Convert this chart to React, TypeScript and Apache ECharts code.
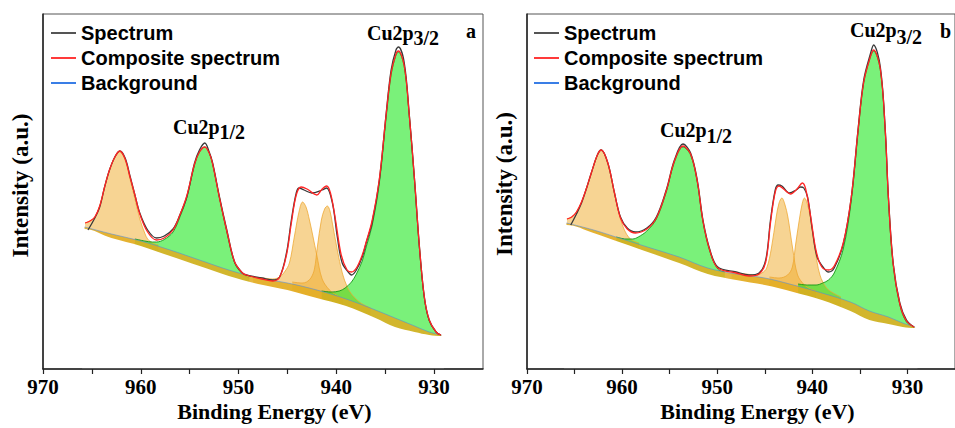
import React, { useEffect, useRef } from "react";
import * as echarts from "echarts";

// ---- data (binding energy eV, intensity a.u.) ----
const xTickLabels = [930, 940, 950, 960, 970];
const xTicks = [930, 935, 940, 945, 950, 955, 960, 965, 970];
const legendNames = ["Spectrum", "Composite spectrum", "Background"];

// Panel a
const spectrumA = [[965.4,139],[964.7,151],[964.2,162],[963.7,182],[963.2,199],[962.65,212],[962.15,218],[961.6,211],[961.1,193],[960.6,174],[960.1,156],[959.3,139],[958.4,131],[957.6,133],[956.7,140],[956.0,154],[955.3,172],[954.5,206],[954.0,219],[953.45,226],[953.0,217],[952.65,206],[951.95,172],[951.2,139],[950.4,107],[949.6,96],[949.2,94],[947.6,91],[946.5,89],[945.8,92],[945.1,116],[944.6,149],[944.1,176],[943.8,181],[943.3,179],[942.5,176],[941.45,179],[941.0,181],[940.4,166],[939.9,132],[939.4,106],[938.7,96],[938.45,94],[937.95,99],[937.35,112],[936.95,126],[936.35,146],[935.6,189],[934.9,256],[934.4,299],[933.9,319],[933.65,322],[933.05,306],[932.55,256],[932.0,189],[931.5,122],[931.0,72],[930.5,49],[929.8,37],[929.3,34]];
const compositeA = [[965.7,146],[965.2,148],[964.7,152],[964.2,163],[963.7,182],[963.2,199],[962.65,212],[962.15,218],[961.6,210],[961.1,192],[960.6,174],[960.1,155],[959.3,137],[958.4,129],[957.6,131],[956.7,139],[956.0,154],[955.3,173],[954.5,205],[954.0,217],[953.45,222],[953.0,216],[952.65,205],[951.95,171],[951.2,138],[950.4,107],[949.6,96],[949.2,94],[947.6,90],[946.5,88],[945.8,92],[945.1,114],[944.6,146],[944.1,174],[943.6,182],[943.0,180],[942.0,174],[941.45,180],[941.0,183],[940.6,176],[940.1,150],[939.5,114],[938.9,99],[938.45,97],[937.95,101],[937.35,114],[936.95,127],[936.35,148],[935.6,190],[934.9,255],[934.4,296],[933.9,315],[933.65,318],[933.05,303],[932.55,255],[932.0,189],[931.5,122],[931.0,72],[930.5,49],[929.8,37],[929.3,34]];
const backgroundA = [[965.75,142],[963,135],[960,128],[957,119],[954,109],[951,99],[948,91],[945,86],[942,79],[939,70],[936,59],[934,51],[932,43],[930.5,37],[929.25,34]];
const bandLowA = [[966.0,140],[965.75,140],[963,131],[960,123],[957,113],[954,103],[951,93],[948,85],[945,79],[942,71],[939,63],[936,51],[934,42],[932,37],[930.5,34],[929.25,33],[929.0,33]];
const sat962A = [[965.7,146],[965.2,148],[964.7,152],[964.2,163],[963.7,182],[963.2,199],[962.65,212],[962.15,217],[961.6,209],[961.1,190],[960.6,170],[960.1,150],[959.6,136],[959.3,130],[958.8,126],[958.2,124]];
const cu2p12A = [[960.6,130],[959.6,128],[958.8,127],[958.4,127],[957.6,129.5],[956.7,137],[956.0,152],[955.3,171],[954.5,204],[954.0,217],[953.45,222],[953.0,216],[952.65,205],[951.95,171],[951.2,137],[950.4,106],[949.6,95],[948.9,91]];
const sat943A = [[948.5,92],[947.5,91],[946.5,90],[945.8,92],[945.3,97],[944.8,106],[944.3,132],[943.8,158],[943.45,167],[943.1,162],[942.75,149],[942.4,133],[942.0,114],[941.45,90],[940.7,79],[940.0,74],[939.3,70]];
const sat941A = [[944.5,87],[943.5,86],[943.05,87],[942.6,91],[942.24,100],[941.94,122],[941.53,149],[941.2,160],[940.92,163],[940.65,158],[940.41,146],[939.9,119],[939.39,96],[938.88,82],[938.37,74],[937.5,66],[936.5,61]];
const cu2p32A = [[941.5,78],[940.5,77],[939.7,78],[939.1,81],[938.45,87],[937.95,95],[937.35,108],[936.95,122],[936.35,143],[935.6,186],[934.9,252],[934.4,294],[933.9,314],[933.65,317],[933.05,302],[932.55,254],[932.0,188],[931.5,121],[931.0,71],[930.5,48],[929.8,37],[929.3,34]];

// Panel b
const spectrumB = [[965.4,144],[964.8,155],[964.27,166],[963.7,182],[963.24,196],[962.6,214],[962.2,219],[961.5,206],[960.8,176],[960.17,152],[959.46,141],[958.6,137],[957.4,141],[956.4,152],[955.36,179],[954.5,209],[953.6,225],[952.8,216],[952.1,189],[951.5,149],[950.76,119],[949.94,102],[948.0,97],[946.66,94],[945.6,96],[944.9,109],[944.4,149],[943.9,179],[943.6,184],[943.2,183],[942.4,176],[941.7,179],[941.24,182],[940.9,181],[940.5,172],[940.0,139],[939.5,112],[938.8,101],[938.3,97],[937.7,101],[936.75,125],[935.9,172],[935.2,239],[934.6,289],[933.87,316],[933.56,324],[932.85,302],[932.33,239],[932.0,172],[931.5,106],[930.8,66],[930.1,49],[929.3,42]];
const compositeB = [[965.8,150],[965.3,152],[964.8,157],[964.27,167],[963.7,182],[963.24,196],[962.6,214],[962.2,219],[961.5,206],[960.8,176],[960.17,151],[959.46,140],[958.6,136],[957.4,140],[956.4,151],[955.36,178],[954.5,208],[953.6,223],[952.8,215],[952.1,188],[951.5,148],[950.76,118],[949.94,101],[948.0,96],[946.66,93],[945.6,95],[944.9,107],[944.4,146],[943.9,177],[943.5,183],[942.9,179],[942.3,175],[941.6,180],[941.05,186],[940.7,180],[940.2,154],[939.6,118],[939.0,102],[938.3,99],[937.7,103],[936.75,126],[935.9,172],[935.2,238],[934.6,287],[933.87,313],[933.56,319],[932.85,300],[932.33,238],[932.0,171],[931.5,105],[930.8,65],[930.1,48],[929.3,42]];
const backgroundB = [[965.85,146],[963,139],[960,130],[957,121],[954,112],[951,101],[948,95],[945,91],[942,84],[939,76],[936,67],[934,58],[932,52],[930.5,46],[929.2,42]];
const bandLowB = [[966.1,144],[965.85,144],[963,136],[960,126],[957,116],[954,106],[951,95],[948,89],[945,84],[942,77],[939,69],[936,58],[934,49],[932,45],[930.5,42],[929.2,41],[928.95,41]];
const sat962B = [[965.8,150],[965.3,152],[964.8,157],[964.27,167],[963.7,182],[963.24,196],[962.6,214],[962.2,219],[961.5,205],[960.8,175],[960.17,150],[959.76,139],[959.25,131],[958.8,128],[958.2,126]];
const cu2p12B = [[960.6,132],[959.6,130],[958.9,130],[958.3,132],[957.4,138],[956.4,150],[955.36,177],[954.5,207],[953.6,222],[952.8,214],[952.1,187],[951.5,147],[950.76,117],[949.94,100],[949.2,97]];
const sat943B = [[948.5,96],[947.0,95],[946.0,94],[945.3,96],[944.8,101],[944.3,121],[943.8,152],[943.5,166],[943.2,171],[942.9,165],[942.57,152],[942.06,120],[941.55,94],[940.83,84],[940.2,80],[939.6,78]];
const sat941B = [[944.5,92],[943.5,91],[942.6,94],[942.1,102],[941.75,125],[941.34,151],[941.05,166],[940.83,171],[940.55,166],[940.2,151],[939.7,119],[939.2,94],[938.5,81],[937.8,76],[937.0,72]];
const cu2p32B = [[941.5,85],[940.5,84],[939.6,84],[938.9,86],[938.3,89],[937.7,96],[936.75,120],[935.9,169],[935.2,236],[934.6,286],[933.87,313],[933.56,318],[932.85,299],[932.33,237],[932.0,170],[931.5,104],[930.8,64],[930.1,47],[929.3,42]];

const SERIF = '"Liberation Serif", "Times New Roman", serif';
const SANS = '"Liberation Sans", Arial, sans-serif';
const ORANGE_FILL = "rgba(240,170,40,0.5)";
const ORANGE_LINE = "rgba(238,165,45,0.75)";
const GREEN_FILL = "rgba(0,228,0,0.52)";
const GREEN_LINE = "rgba(20,150,20,0.9)";
const SMOOTH = 0.35;

function panelSeries(i: number, d: any) {
  const base = { type: "line", xAxisIndex: i, yAxisIndex: i, symbol: "none", showSymbol: false, smooth: SMOOTH, silent: true };
  const fill = (data: number[][], fillC: string, lineC: string) => ({
    ...base, data, z: 2,
    lineStyle: { color: lineC, width: 1 },
    areaStyle: { color: fillC, opacity: 1 },
  });
  return [
    fill(d.s962, ORANGE_FILL, ORANGE_LINE),
    fill(d.p12, GREEN_FILL, GREEN_LINE),
    fill(d.s943, ORANGE_FILL, ORANGE_LINE),
    fill(d.s941, ORANGE_FILL, ORANGE_LINE),
    fill(d.p32, GREEN_FILL, GREEN_LINE),
    // gold band under the background line, then white below it
    { ...base, data: d.bg, z: 3, lineStyle: { width: 0, opacity: 0 }, areaStyle: { color: "rgba(226,172,32,0.85)", opacity: 1 } },
    { ...base, data: d.low, z: 3, lineStyle: { width: 0, opacity: 0 }, areaStyle: { color: "#ffffff", opacity: 1 } },
    { ...base, name: "Background", data: d.bg, z: 4, itemStyle: { color: "#3a7ee6" }, lineStyle: { color: "#4a8ae6", width: 1, opacity: 0.55 } },
    { ...base, name: "Spectrum", data: d.spec, z: 5, itemStyle: { color: "#555" }, lineStyle: { color: "#3a3a3a", width: 1.3 } },
    { ...base, name: "Composite spectrum", data: d.comp, z: 6, itemStyle: { color: "#ff3a3a" }, lineStyle: { color: "#ff2424", width: 1.3 } },
  ];
}

function xAxis(i: number) {
  return {
    gridIndex: i, type: "value", min: 925, max: 970, interval: 5, inverse: true, z: 10,
    axisLine: { show: true, onZero: false, lineStyle: { color: "#222", width: 1.5 } },
    axisTick: { show: true, length: 5, customValues: xTicks, lineStyle: { color: "#222", width: 1.2 } },
    axisLabel: {
      show: true, margin: 7, customValues: xTickLabels,
      formatter: (v: number) => (v % 10 === 0 ? String(v) : ""),
      fontFamily: SERIF, fontWeight: "bold", fontSize: 21, color: "#000",
    },
    splitLine: { show: false },
  };
}
function yAxis(i: number) {
  return {
    gridIndex: i, type: "value", min: 0, max: 355, z: 10,
    axisLine: { show: true, onZero: false, lineStyle: { color: "#222", width: 1.5 } },
    axisTick: { show: false }, axisLabel: { show: false }, splitLine: { show: false },
  };
}
const hidden = { color: "rgba(0,0,0,0)", borderColor: "rgba(0,0,0,0)", borderWidth: 0, opacity: 0 };
function legend(left: number) {
  return {
    orient: "vertical", left, top: 18, itemWidth: 25, itemHeight: 14, itemGap: 5,
    selectedMode: false,
    textStyle: { fontFamily: SANS, fontWeight: "bold", fontSize: 20, color: "#000", lineHeight: 20 },
    data: [
      { name: legendNames[0], itemStyle: hidden, lineStyle: { color: "#555", width: 2, opacity: 1 } },
      { name: legendNames[1], itemStyle: hidden, lineStyle: { color: "#ff3a3a", width: 2, opacity: 1 } },
      { name: legendNames[2], itemStyle: hidden, lineStyle: { color: "#3a7ee6", width: 2, opacity: 1 } },
    ],
  };
}
const txt = (text: string, x: number, y: number, size: number, extra: any = {}) => ({
  type: "text", x, y, silent: true, z: 20, ...extra,
  style: { text, fill: "#000", fontFamily: SERIF, fontWeight: "bold", fontSize: size, align: "left", verticalAlign: "middle", ...(extra.style || {}) },
});

export default function App() {
  const ref = useRef<HTMLDivElement>(null);
  useEffect(() => {
    if (!ref.current) return;
    const chart = echarts.init(ref.current, undefined, { renderer: "svg" });
    const A = { spec: spectrumA, comp: compositeA, bg: backgroundA, low: bandLowA, s962: sat962A, p12: cu2p12A, s943: sat943A, s941: sat941A, p32: cu2p32A };
    const B = { spec: spectrumB, comp: compositeB, bg: backgroundB, low: bandLowB, s962: sat962B, p12: cu2p12B, s943: sat943B, s941: sat941B, p32: cu2p32B };
    const option: any = {
      animation: false,
      backgroundColor: "#ffffff",
      grid: [
        { left: 43, top: 14, width: 440, height: 355, show: true, borderColor: "#555", borderWidth: 1, backgroundColor: "transparent" },
        { left: 527, top: 14, width: 440, height: 355, show: true, borderColor: "#555", borderWidth: 1, backgroundColor: "transparent" },
      ],
      xAxis: [xAxis(0), xAxis(1)],
      yAxis: [yAxis(0), yAxis(1)],
      legend: [legend(45), legend(528)],
      graphic: [
        txt("Intensity (a.u.)", 20.5, 185.5, 23, { rotation: Math.PI / 2, style: { align: "center" } }),
        txt("Intensity (a.u.)", 504, 184, 23, { rotation: Math.PI / 2, style: { align: "center" } }),
        txt("Binding Energy (eV)", 274.5, 411, 22, { style: { align: "center" } }),
        txt("Binding Energy (eV)", 757.5, 411.5, 22, { style: { align: "center" } }),
        txt("a", 466, 31, 20),
        txt("b", 940, 31, 20),
        txt("Cu2p", 367, 33, 20),
        txt("3/2", 413.5, 38, 20),
        txt("Cu2p", 173, 126.5, 20),
        txt("1/2", 219.5, 131.5, 20),
        txt("Cu2p", 850, 30, 20),
        txt("3/2", 896.5, 36.5, 20),
        txt("Cu2p", 660, 130, 20),
        txt("1/2", 706.5, 136, 20),
      ],
      series: [...panelSeries(0, A), ...panelSeries(1, B)],
    };
    chart.setOption(option);
    return () => chart.dispose();
  }, []);
  return (
    <div
      ref={ref}
      style={{ position: "fixed", left: 0, top: 0, width: 955, height: 428, overflow: "hidden", background: "#fff" }}
    />
  );
}
